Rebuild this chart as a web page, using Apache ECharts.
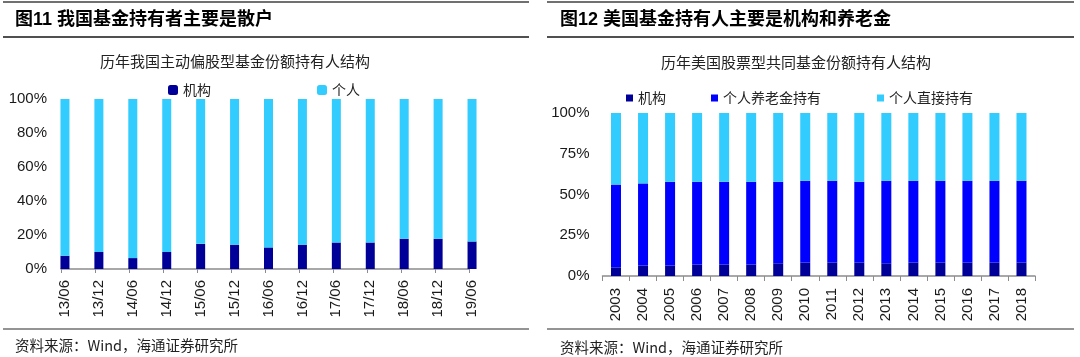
<!DOCTYPE html>
<html>
<head>
<meta charset="utf-8">
<script src="https://cdn.jsdelivr.net/npm/echarts@6/dist/echarts.min.js"></script>
<style>
html,body{margin:0;padding:0;background:#fff;}
#main{width:1080px;height:357px;}
</style>
</head>
<body>
<div id="main"></div>
<script>
// ---- Left chart data (China) ----
const cnCategories = ['13/06','13/12','14/06','14/12','15/06','15/12','16/06','16/12','17/06','17/12','18/06','18/12','19/06'];
const cnInstitution = [7.8, 10.0, 6.4, 10.0, 14.8, 14.3, 12.7, 14.3, 15.6, 15.6, 17.8, 17.8, 16.2];
const cnIndividual = [92.2, 90.0, 93.6, 90.0, 85.2, 85.7, 87.3, 85.7, 84.4, 84.4, 82.2, 82.2, 83.8];
const cnYTicks = [0, 20, 40, 60, 80, 100];

// ---- Right chart data (US) ----
const usCategories = ['2003','2004','2005','2006','2007','2008','2009','2010','2011','2012','2013','2014','2015','2016','2017','2018'];
const usInstitution = [5.3, 6.4, 6.4, 7.0, 7.0, 7.0, 7.8, 8.2, 8.2, 8.2, 7.8, 8.2, 8.2, 8.2, 8.2, 8.2];
const usRetirement = [50.8, 50.4, 51.4, 50.8, 50.8, 50.8, 50.0, 50.2, 50.2, 49.6, 50.6, 50.2, 50.2, 50.2, 50.2, 50.2];
const usDirect = [43.9, 43.2, 42.2, 42.2, 42.2, 42.2, 42.2, 41.6, 41.6, 42.2, 41.6, 41.6, 41.6, 41.6, 41.6, 41.6];
const usYTicks = [0, 25, 50, 75, 100];

const C_NAVY = '#000099', C_BLUE = '#0000FF', C_CYAN = '#33CCFF';
const FONT_LAT = '"Liberation Sans", Arial, "Noto Sans CJK SC", sans-serif';
const FONT_CJK = '"Noto Sans CJK SC", "Liberation Sans", sans-serif';
const TXT = '#1a1a1a';
const AXIS = '#8c8c8c';

const chart = echarts.init(document.getElementById('main'), null, {renderer: 'canvas'});

function hline(x1, x2, y, w, c) {
  return {type: 'line', silent: true, shape: {x1: x1, y1: y, x2: x2, y2: y}, style: {stroke: c, lineWidth: w}};
}
function txt(t, x, y, font, align, color) {
  return {type: 'text', silent: true, style: {text: t, x: x, y: y, font: font, textAlign: align, textVerticalAlign: 'middle', fill: color}};
}

const option = {
  animation: false,
  backgroundColor: '#fff',
  grid: [
    {left: 48, width: 441, top: 99, height: 170},
    {left: 61, width: 408, top: 99, height: 170},
    {left: 602.5, width: 432.5, top: 113, height: 163}
  ],
  legend: [
    {data: [{name: '机构', icon: 'roundRect'}], left: 163, top: 78, itemWidth: 10, itemHeight: 10,
      textStyle: {fontFamily: FONT_CJK, fontSize: 14, color: '#222'}},
    {data: [{name: '个人', icon: 'roundRect'}], left: 312, top: 78, itemWidth: 10, itemHeight: 10,
      textStyle: {fontFamily: FONT_CJK, fontSize: 14, color: '#222'}},
    {data: [{name: '机构 ', icon: 'rect'}], left: 621, top: 86, itemWidth: 7, itemHeight: 7, itemGap: 4,
      textStyle: {fontFamily: FONT_CJK, fontSize: 14, color: '#222'}},
    {data: [{name: '个人养老金持有', icon: 'rect'}], left: 706, top: 86, itemWidth: 7, itemHeight: 7,
      textStyle: {fontFamily: FONT_CJK, fontSize: 14, color: '#222'}},
    {data: [{name: '个人直接持有', icon: 'rect'}], left: 872, top: 86, itemWidth: 7, itemHeight: 7,
      textStyle: {fontFamily: FONT_CJK, fontSize: 14, color: '#222'}}
  ],
  xAxis: [
    {type: 'category', gridIndex: 0, data: cnCategories, boundaryGap: true,
      axisLine: {show: false}, axisTick: {show: false},
      axisLabel: {rotate: 90, margin: 11, fontFamily: FONT_LAT, fontSize: 15, color: TXT, interval: 0}},
    {type: 'category', gridIndex: 1, data: cnCategories, boundaryGap: false,
      axisLine: {show: true, lineStyle: {color: AXIS, width: 1.5}},
      axisTick: {show: true, length: 4, interval: 0, lineStyle: {color: AXIS}},
      axisLabel: {show: false}},
    {type: 'category', gridIndex: 2, data: usCategories, boundaryGap: true,
      axisLine: {show: true, lineStyle: {color: AXIS, width: 1.5}},
      axisTick: {show: true, length: 5, interval: 0, lineStyle: {color: AXIS}},
      axisLabel: {rotate: 90, margin: 12, fontFamily: FONT_LAT, fontSize: 15, color: TXT, interval: 0}}
  ],
  yAxis: [
    {type: 'value', gridIndex: 0, min: cnYTicks[0], max: cnYTicks[cnYTicks.length - 1], interval: cnYTicks[1] - cnYTicks[0],
      show: false, splitLine: {show: false}},
    {type: 'value', gridIndex: 1, min: cnYTicks[0], max: cnYTicks[cnYTicks.length - 1], interval: cnYTicks[1] - cnYTicks[0],
      axisLine: {show: false}, axisTick: {show: false}, splitLine: {show: false},
      axisLabel: {formatter: '{value}%', margin: 14, fontFamily: FONT_LAT, fontSize: 15, color: TXT}},
    {type: 'value', gridIndex: 2, min: usYTicks[0], max: usYTicks[usYTicks.length - 1], interval: usYTicks[1] - usYTicks[0],
      axisLine: {show: false}, axisTick: {show: false}, splitLine: {show: false},
      axisLabel: {formatter: '{value}%', margin: 13, fontFamily: FONT_LAT, fontSize: 15, color: TXT}}
  ],
  series: [
    {name: '机构', type: 'bar', stack: 'cn', xAxisIndex: 0, yAxisIndex: 0, barWidth: 9,
      itemStyle: {color: C_NAVY}, data: cnInstitution},
    {name: '个人', type: 'bar', stack: 'cn', xAxisIndex: 0, yAxisIndex: 0, barWidth: 9,
      itemStyle: {color: C_CYAN}, data: cnIndividual},
    {name: '机构 ', type: 'bar', stack: 'us', xAxisIndex: 2, yAxisIndex: 2, barWidth: 10,
      itemStyle: {color: C_NAVY}, data: usInstitution},
    {name: '个人养老金持有', type: 'bar', stack: 'us', xAxisIndex: 2, yAxisIndex: 2, barWidth: 10,
      itemStyle: {color: C_BLUE}, data: usRetirement},
    {name: '个人直接持有', type: 'bar', stack: 'us', xAxisIndex: 2, yAxisIndex: 2, barWidth: 10,
      itemStyle: {color: C_CYAN}, data: usDirect}
  ],
  graphic: [
    hline(3, 529, 2, 2, '#707070'),
    hline(3, 529, 37, 2, '#505050'),
    hline(3, 529, 329, 1.5, '#707070'),
    hline(547, 1074, 2, 2, '#707070'),
    hline(547, 1074, 37, 2, '#505050'),
    hline(547, 1074, 329, 1.5, '#707070'),
    txt('图11 我国基金持有者主要是散户', 15, 20, 'bold 18px ' + FONT_LAT, 'left', '#000'),
    txt('图12 美国基金持有人主要是机构和养老金', 560, 20, 'bold 18px ' + FONT_LAT, 'left', '#000'),
    txt('历年我国主动偏股型基金份额持有人结构', 235, 61, '15px ' + FONT_CJK, 'center', '#222'),
    txt('历年美国股票型共同基金份额持有人结构', 796, 62, '15px ' + FONT_CJK, 'center', '#222'),
    txt('资料来源：Wind，海通证券研究所', 15, 345, '14.5px ' + FONT_CJK, 'left', '#222'),
    txt('资料来源：Wind，海通证券研究所', 560, 347, '14.5px ' + FONT_CJK, 'left', '#222')
  ]
};
chart.setOption(option);
</script>
</body>
</html>
